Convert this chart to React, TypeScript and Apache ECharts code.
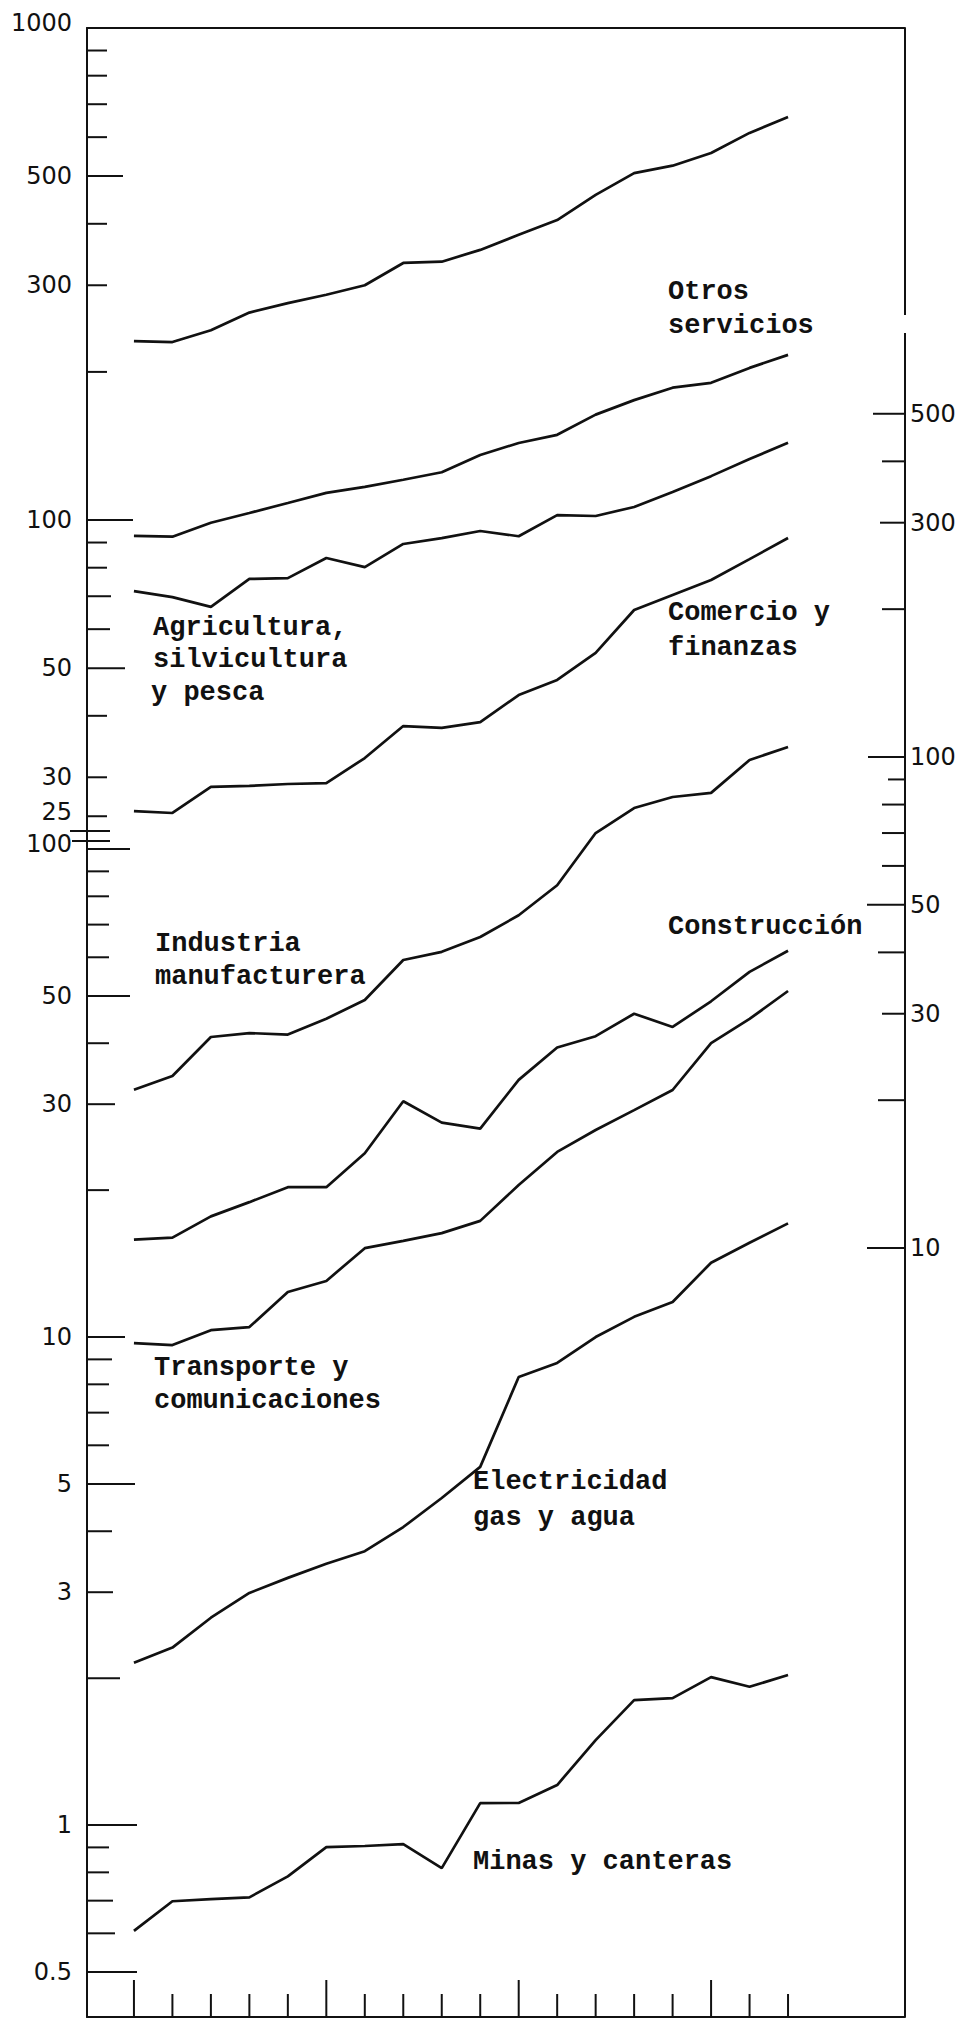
import React, { useEffect, useRef } from "react";
import * as echarts from "echarts";

// ---------- DATA ----------
const years = [1950, 1951, 1952, 1953, 1954, 1955, 1956, 1957, 1958, 1959, 1960, 1961, 1962, 1963, 1964, 1965, 1966, 1967];
const majorYears = [1950, 1955, 1960, 1965];

// upper-left scale (25 - 1000)
const productoTotal = [231, 230, 243, 264, 276, 287, 300, 333, 335, 354, 380, 407, 458, 507, 525, 557, 612, 659];
const agricultura = [71.7, 69.7, 66.6, 75.9, 76.2, 83.7, 80.2, 89.4, 91.9, 95.0, 92.7, 102.3, 101.9, 106.3, 114.0, 122.8, 133.0, 143.5];

// right scale (10 - 500)
const otrosServicios = [282, 281, 300, 314, 329, 345, 355, 367, 380, 412, 436, 453, 498, 533, 565, 578, 620, 659];
const comercioFinanzas = [77.6, 76.9, 86.9, 87.3, 88.1, 88.5, 99.5, 115.6, 114.6, 117.8, 133.7, 143.5, 162.9, 199.2, 213.8, 229.3, 252.9, 279.2];
const industria = [21.0, 22.4, 26.9, 27.4, 27.2, 29.3, 32.0, 38.6, 40.1, 43.0, 47.6, 54.8, 70.0, 78.7, 82.9, 84.5, 98.6, 104.8];
const construccion = [10.4, 10.5, 11.6, 12.4, 13.3, 13.3, 15.6, 19.9, 18.0, 17.5, 22.0, 25.6, 27.0, 30.0, 28.2, 31.8, 36.5, 40.3];

// lower-left scale (0.5 - 100)
const transporte = [9.72, 9.63, 10.33, 10.48, 12.37, 13.03, 15.21, 15.74, 16.33, 17.3, 20.49, 23.95, 26.56, 29.17, 32.08, 40.0, 44.85, 51.17];
const electricidad = [2.15, 2.31, 2.66, 2.99, 3.21, 3.43, 3.64, 4.08, 4.68, 5.42, 8.28, 8.85, 10.0, 11.0, 11.8, 14.2, 15.6, 17.1];
const minas = [0.607, 0.698, 0.705, 0.711, 0.785, 0.901, 0.906, 0.914, 0.816, 1.109, 1.11, 1.208, 1.493, 1.803, 1.82, 2.01, 1.92, 2.03];

// tick values and labels
const upperTicks = [1000, 900, 800, 700, 600, 500, 400, 300, 200, 100, 90, 80, 70, 60, 50, 40, 30, 25];
const upperLabels = [1000, 500, 300, 100, 50, 30, 25];
const lowerTicks = [100, 90, 80, 70, 60, 50, 40, 30, 20, 10, 9, 8, 7, 6, 5, 4, 3, 2, 1, 0.9, 0.8, 0.7, 0.6, 0.5];
const lowerLabels = [100, 50, 30, 10, 5, 3, 1, 0.5];
const rightTicks = [500, 400, 300, 200, 100, 90, 80, 70, 60, 50, 40, 30, 20, 10];
const rightLabels = [500, 300, 100, 50, 30, 10];

// ---------- STYLE ----------
const INK = "#111";
const NUM_FONT = '24px "DejaVu Sans"';
const TYPE_FONT = 'bold 27px "Liberation Mono"';

const upperLen: Record<number, number> = { 1000: 0, 500: 36, 100: 46, 50: 38, 70: 24, 60: 23 };
const lowerLen: Record<number, number> = { 100: 43, 50: 43, 30: 28, 10: 38, 9: 25, 5: 48, 4: 25, 3: 26, 2: 33, 1: 50, 0.7: 26, 0.6: 28, 0.5: 50 };
const rightLen: Record<number, number> = { 500: 32, 300: 25, 100: 37, 90: 17, 50: 38, 40: 27, 20: 27, 10: 38 };
const labelDy: Record<string, number> = { "u1000": -5, "u25": -4, "l100": -5 };

function tickSeries(values: number[], yAxisIndex: number, side: "left" | "right", labels: number[], lens: Record<number, number>, defLen: number, key: string) {
  return {
    type: "custom",
    xAxisIndex: 0,
    yAxisIndex,
    silent: true,
    clip: false,
    data: values.map((v) => [years[0], v]),
    renderItem: (params: any, api: any) => {
      const v = api.value(1);
      const pt = api.coord([api.value(0), v]);
      const cs = params.coordSys;
      const len = lens[v] !== undefined ? lens[v] : defLen;
      const x0 = side === "left" ? cs.x : cs.x + cs.width;
      const x1 = side === "left" ? x0 + len : x0 - len;
      const children: any[] = [];
      if (len > 0) {
        children.push({
          type: "line",
          shape: { x1: x0, y1: pt[1], x2: x1, y2: pt[1] },
          style: { stroke: INK, lineWidth: 2 },
        });
      }
      if (labels.indexOf(v) >= 0) {
        const dy = labelDy[key + v] || 0;
        children.push({
          type: "text",
          style: {
            text: String(v),
            x: side === "left" ? x0 - 15 : x0 + 5,
            y: pt[1] + dy,
            align: side === "left" ? "right" : "left",
            verticalAlign: "middle",
            font: NUM_FONT,
            lineHeight: 24,
            fill: INK,
          },
        });
      }
      return { type: "group", children };
    },
  };
}

function lineSeries(name: string, values: number[], yAxisIndex: number) {
  return {
    name,
    type: "line",
    xAxisIndex: 0,
    yAxisIndex,
    data: years.map((y, i) => [y, values[i]]),
    symbol: "none",
    silent: true,
    lineStyle: { color: INK, width: 2.7 },
    z: 3,
  };
}

function txt(text: string, x: number, y: number) {
  return {
    type: "text",
    x,
    y,
    style: { text, font: TYPE_FONT, fill: INK, verticalAlign: "middle", align: "left" },
  };
}

export default function App() {
  const ref = useRef<HTMLDivElement>(null);
  useEffect(() => {
    if (!ref.current) return;
    const chart = echarts.init(ref.current, undefined, { renderer: "svg" });
    const hiddenY = (min: number, max: number, show: boolean) => ({
      type: "log",
      logBase: 10,
      min,
      max,
      show,
      position: "left",
      axisLine: { show, lineStyle: { color: INK, width: 2 } },
      axisTick: { show: false },
      axisLabel: { show: false },
      splitLine: { show: false },
    });
    const xCommon = {
      type: "value",
      min: 1948.78,
      max: 1970.04,
      axisTick: { show: false },
      axisLabel: { show: false },
      splitLine: { show: false },
      axisLine: { show: true, onZero: false, lineStyle: { color: INK, width: 2 } },
    };
    chart.setOption({
      animation: false,
      backgroundColor: "#fff",
      grid: { left: 87, top: 28, width: 818, height: 1989, containLabel: false },
      xAxis: [
        { ...xCommon, position: "bottom" },
        { ...xCommon, position: "top" },
      ],
      yAxis: [
        hiddenY(0.09067, 1000, true), // upper-left
        hiddenY(0.4043, 4812, false), // lower-left
        hiddenY(0.2716, 3052, false), // right
      ],
      series: [
        lineSeries("Producto total", productoTotal, 0),
        lineSeries("Agricultura, silvicultura y pesca", agricultura, 0),
        lineSeries("Otros servicios", otrosServicios, 2),
        lineSeries("Comercio y finanzas", comercioFinanzas, 2),
        lineSeries("Industria manufacturera", industria, 2),
        lineSeries("Construcción", construccion, 2),
        lineSeries("Transporte y comunicaciones", transporte, 1),
        lineSeries("Electricidad gas y agua", electricidad, 1),
        lineSeries("Minas y canteras", minas, 1),
        tickSeries(upperTicks, 0, "left", upperLabels, upperLen, 20, "u"),
        tickSeries(lowerTicks, 1, "left", lowerLabels, lowerLen, 22, "l"),
        tickSeries(rightTicks, 2, "right", rightLabels, rightLen, 23, "r"),
        {
          type: "custom",
          xAxisIndex: 0,
          yAxisIndex: 1,
          silent: true,
          clip: false,
          data: years.map((y) => [y, 1]),
          renderItem: (params: any, api: any) => {
            const yr = api.value(0);
            const pt = api.coord([yr, 1]);
            const cs = params.coordSys;
            const bottom = cs.y + cs.height;
            const len = majorYears.indexOf(yr) >= 0 ? 37 : 23;
            return {
              type: "line",
              shape: { x1: pt[0], y1: bottom, x2: pt[0], y2: bottom - len },
              style: { stroke: INK, lineWidth: 2 },
            };
          },
        },
      ],
      graphic: [
        // right border with its small gap
        { type: "line", shape: { x1: 905, y1: 28, x2: 905, y2: 315 }, style: { stroke: INK, lineWidth: 2 } },
        { type: "line", shape: { x1: 905, y1: 333, x2: 905, y2: 2017 }, style: { stroke: INK, lineWidth: 2 } },
        // scale break marks on the left axis
        { type: "line", shape: { x1: 70, y1: 831, x2: 110, y2: 831 }, style: { stroke: INK, lineWidth: 2 } },
        { type: "line", shape: { x1: 72, y1: 841, x2: 110, y2: 841 }, style: { stroke: INK, lineWidth: 2 } },
        // series names
        txt("Otros", 668, 292),
        txt("servicios", 668, 326),
        txt("Agricultura,", 153, 628),
        txt("silvicultura", 153, 660),
        txt("y pesca", 151, 693),
        txt("Comercio y", 668, 613),
        txt("finanzas", 668, 648),
        txt("Industria", 155, 944),
        txt("manufacturera", 155, 977),
        txt("Construcción", 668, 927),
        txt("Transporte y", 154, 1368),
        txt("comunicaciones", 154, 1401),
        txt("Electricidad", 473, 1482),
        txt("gas y agua", 473, 1518),
        txt("Minas y canteras", 473, 1862),
      ],
    });
    return () => chart.dispose();
  }, []);
  return (
    <div
      ref={ref}
      style={{ position: "absolute", left: 0, top: 0, width: 962, height: 2022, background: "#fff" }}
    />
  );
}
